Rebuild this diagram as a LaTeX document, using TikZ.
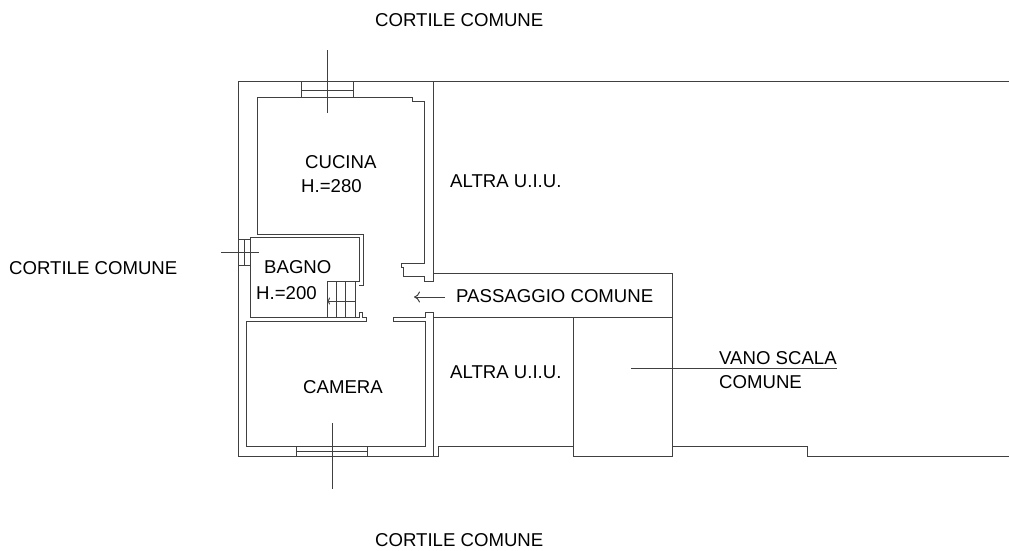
\documentclass[tikz,border=0pt]{standalone}
\usepackage{fontspec}
\setmainfont{Liberation Sans}
\usepackage{tikz}
\usetikzlibrary{arrows.meta}
\tikzset{
	wall/.style={draw=black!75,line width=1pt,line join=miter},
	lbl/.style={anchor=west,inner sep=0pt,font=\fontsize{18.6}{20}\selectfont}
}
\begin{document}
\begin{tikzpicture}[x=1pt,y=-1pt]
	  \useasboundingbox (0, 0) rectangle (1009, 550);
	  % outer walls
	  \draw[wall](433, 282) -- (433, 81) -- (238, 81) -- (238, 456) -- (438, 456) -- (438, 446) -- (573, 446);
	  \draw[wall](433, 81) -- (1009, 81);
	  \draw[wall](433, 312) -- (433, 456);
	  \draw[wall](672, 446) -- (807, 446) -- (807, 456) -- (1009, 456);
	  % passage and stair well
	  \draw[wall](433, 273) -- (672, 273) -- (672, 456) -- (573, 456) -- (573, 317);
	  \draw[wall](433, 317) -- (672, 317);
	  % kitchen
	  \draw[wall](359, 285) -- (363, 285) -- (363, 234) -- (257, 234) -- (257, 97) -- (412, 97) -- (412, 101) -- (424, 101) -- (424, 263) -- (401, 263) -- (401, 267) -- (403, 267) -- (403, 276) -- (424, 276) -- (424, 281) -- (433, 281);
	  % bathroom
	  \draw[wall](327, 281) -- (359, 281) -- (359, 237) -- (250, 237) -- (250, 317) -- (359, 317) -- (359, 312) -- (362, 312) -- (362, 317) -- (366, 317) -- (366, 321) -- (246, 321) -- (246, 446) -- (425, 446) -- (425, 321) -- (393, 321) -- (393, 317) -- (425, 317) -- (425, 312) -- (433, 312);
	  % stairs
	  \draw[wall](327, 281) -- (327, 317);
	  \draw[wall](336, 281) -- (336, 317);
	  \draw[wall](345, 281) -- (345, 317);
	  \draw[wall](355, 281) -- (355, 317);
	  \draw[wall,-{To[length=3pt,width=7pt]}](355, 301) -- (327, 301);
	  % windows
	  \draw[wall](301, 81) rectangle (353, 97);
	  \draw[wall](301, 90) -- (353, 90);
	  \draw[wall](296, 446) rectangle (367, 456);
	  \draw[wall](296, 451) -- (367, 451);
	  \draw[wall](238, 239) rectangle (250, 265);
	  \draw[wall](244, 239) -- (244, 265);
	  % ticks through the windows
	  \draw[wall](327, 50) -- (327, 113);
	  \draw[wall](332, 423) -- (332, 489);
	  \draw[wall](221, 252) -- (259, 252);
	  % labels
	  \draw(375, 20) node[lbl](cortilenord) {CORTILE COMUNE};
	  \draw(9, 268) node[lbl](cortileovest) {CORTILE COMUNE};
	  \draw(375, 540) node[lbl](cortilesud) {CORTILE COMUNE};
	  \draw(305, 162) node[lbl](cucina) {CUCINA};
	  \draw(301, 186) node[lbl](cucinah) {H.=280};
	  \draw(264, 267) node[lbl](bagno) {BAGNO};
	  \draw(256, 293) node[lbl](bagnoh) {H.=200};
	  \draw(303, 387) node[lbl](camera) {CAMERA};
	  \draw(450, 181) node[lbl](altraa) {ALTRA U.I.U.};
	  \draw(450, 372) node[lbl](altrab) {ALTRA U.I.U.};
	  \draw(456, 296) node[lbl](passaggio) {PASSAGGIO COMUNE};
	  \draw(719, 358) node[lbl](vano) {VANO SCALA};
	  \draw(719, 382) node[lbl](comune) {COMUNE};
	  % leaders
	  \coordinate(tip) at (414, 297);
	  \draw[wall,-{To[length=6pt,width=11pt]}]([xshift=-11pt,yshift=-1pt]passaggio.west) -- (tip);
	  \coordinate(vanoa) at (631, 368);
	  \coordinate(vanob) at (837, 368);
	  \draw[wall](vanoa) -- (vanob);
	\end{tikzpicture}
\end{document}
